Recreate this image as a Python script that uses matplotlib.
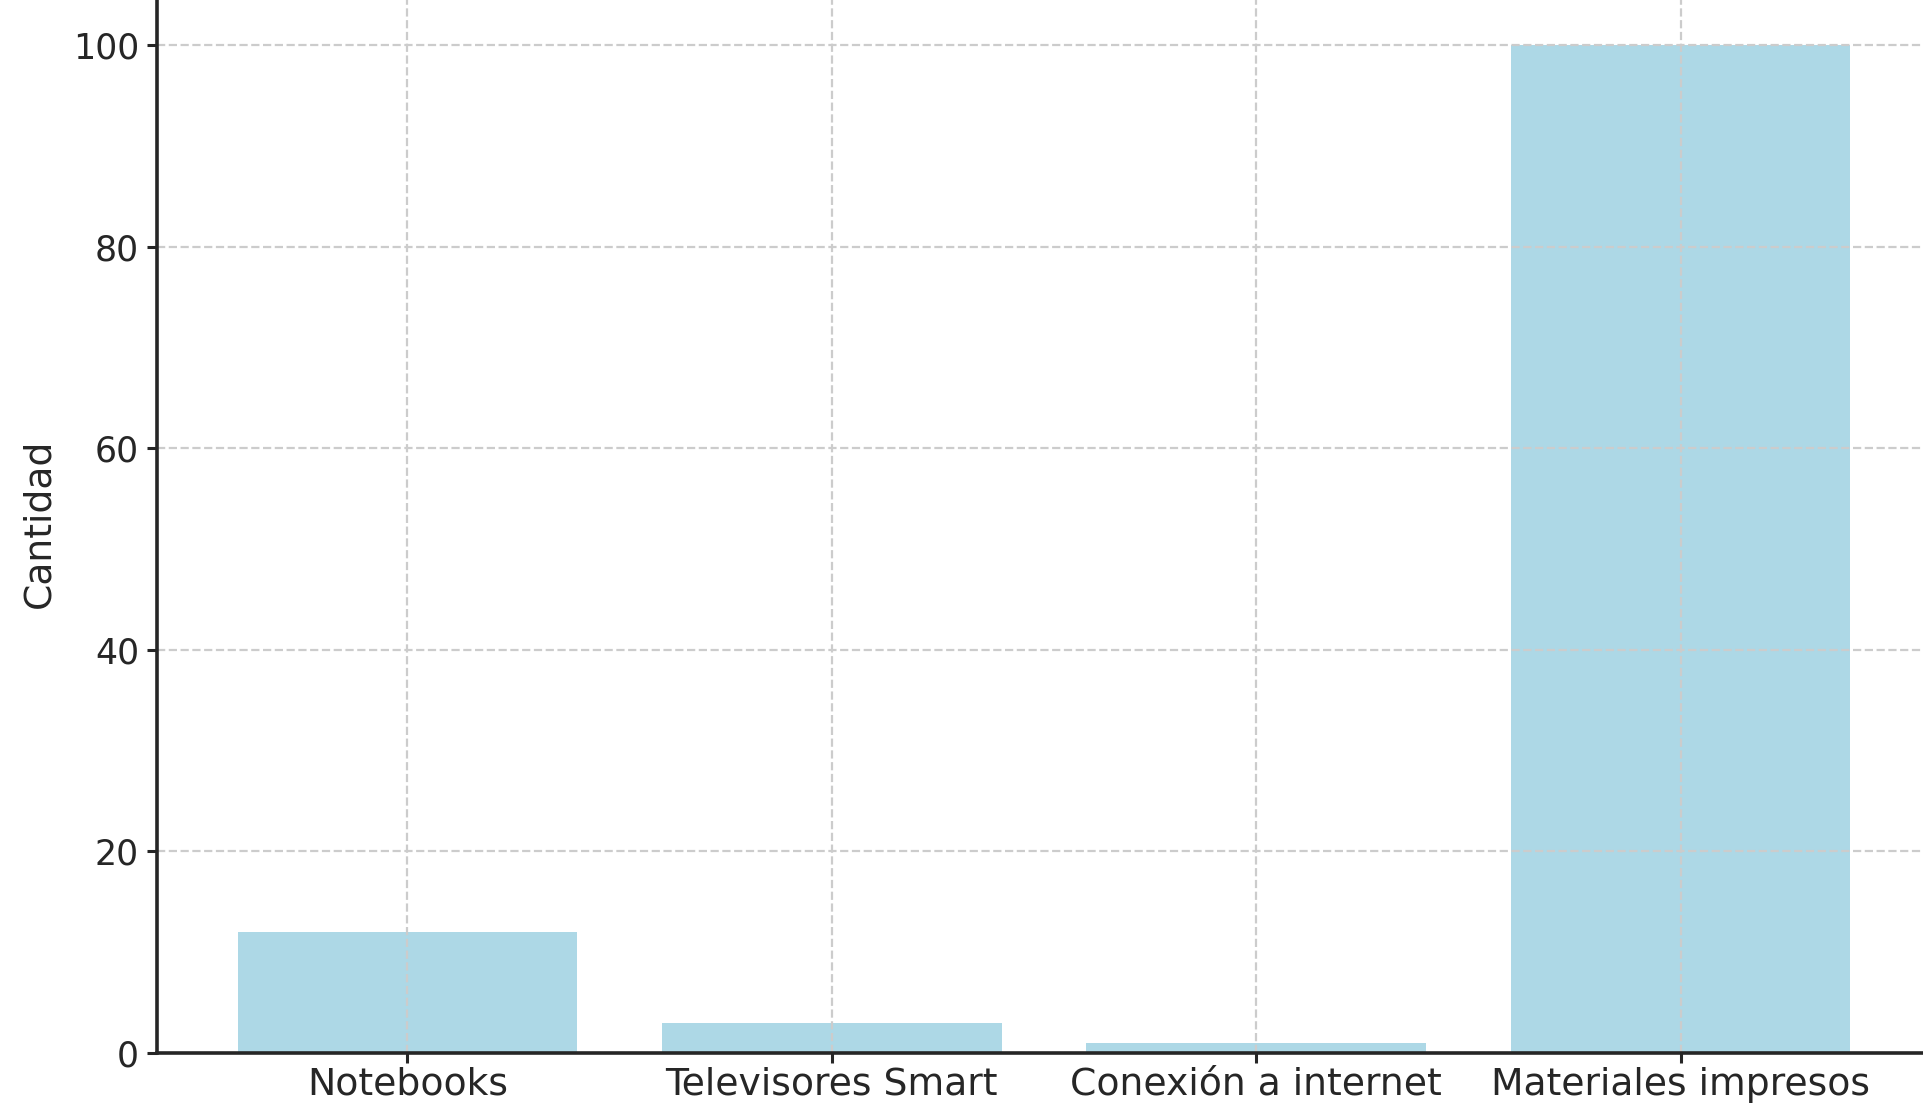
import matplotlib
matplotlib.use('Agg')
import matplotlib.pyplot as plt

# Data
categorias = ['Notebooks', 'Televisores Smart', 'Conexión a internet', 'Materiales impresos']
cantidades = [12, 3, 1, 100]

plt.rcParams['font.family'] = ['DejaVu Sans']
plt.rcParams['font.size'] = 13.6
plt.rcParams['text.color'] = '#262626'
plt.rcParams['axes.labelcolor'] = '#262626'
plt.rcParams['xtick.color'] = '#262626'
plt.rcParams['ytick.color'] = '#262626'


def main():
    fig = plt.figure(figsize=(9.62, 5.53), dpi=200)
    # axes runs slightly past the top and right edges, like the cropped original
    ax = fig.add_axes([0.0816, 0.0479, 0.922, 0.957])

    ax.bar(categorias, cantidades, color='lightblue', width=0.8, zorder=2)
    ax.set_ylabel('Cantidad', fontsize=13.6, labelpad=5.5)
    ax.set_ylim(0, 105)
    ax.set_yticks([0, 20, 40, 60, 80, 100])
    ax.set_axisbelow(False)  # grid shows through the bars
    ax.grid(True, linestyle='--', color='#cccccc', linewidth=0.8)
    for s in ax.spines.values():
        s.set_color('#262626')
        s.set_linewidth(1.3)
        s.set_zorder(4)
    ax.tick_params(axis='both', length=3.5, width=1.1)
    ax.tick_params(axis='x', labelsize=13.6, pad=1.5)
    ax.tick_params(axis='y', labelsize=12.5, pad=3)

    fig.savefig('out.png', dpi=200)


if __name__ == "__main__":
    main()
